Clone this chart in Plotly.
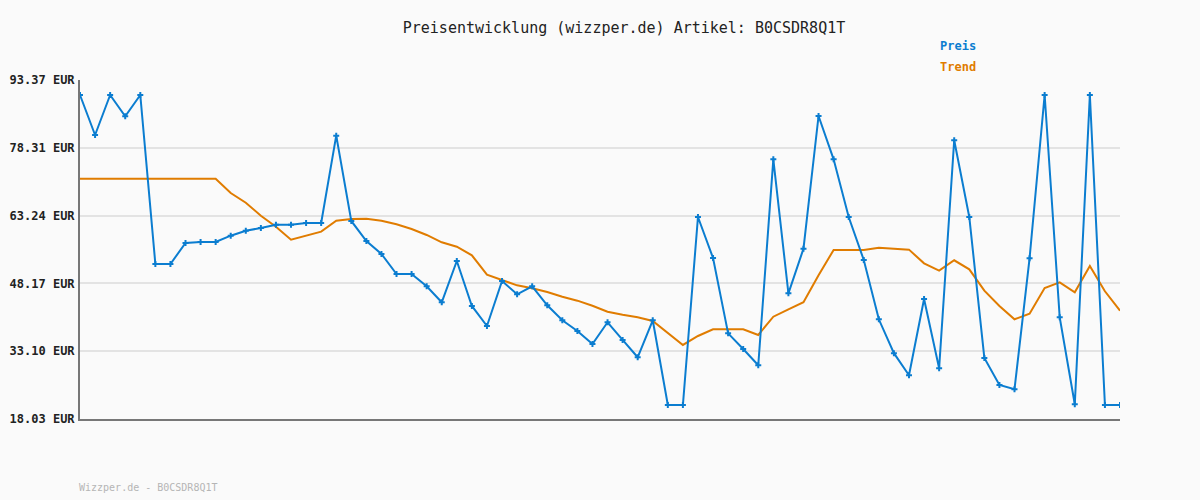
import plotly.graph_objects as go

preis = [90.04, 81.15, 90.04, 85.3, 90.04, 52.48, 52.48, 57.15, 57.37, 57.37,
         58.77, 59.88, 60.48, 61.21, 61.21, 61.59, 61.59, 81.0, 62.04, 57.59,
         54.70, 50.26, 50.26, 47.52, 43.97, 53.15, 43.15, 38.7, 48.7, 45.75,
         47.52, 43.3, 39.97, 37.59, 34.7, 39.52, 35.6, 31.75, 39.97, 21.15,
         21.15, 62.93, 53.81, 37.07, 33.59, 29.97, 75.74, 45.96, 55.88, 85.37,
         75.74, 62.93, 53.37, 40.19, 32.66, 27.75, 44.7, 29.3, 79.97, 62.93,
         31.6, 25.6, 24.63, 53.74, 90.04, 40.63, 21.3, 90.04, 21.15, 21.15]

trend = [71.44, 71.44, 71.44, 71.44, 71.44, 71.44, 71.44, 71.44, 71.44, 71.44,
         68.26, 66.1, 63.2, 60.77, 57.88, 58.77, 59.66, 62.1, 62.5, 62.55,
         62.1, 61.3, 60.26, 58.93, 57.3, 56.33, 54.4, 50.1, 48.93, 47.74,
         47.08, 46.26, 45.2, 44.33, 43.2, 41.88, 41.2, 40.63, 39.8, 37.08,
         34.48, 36.48, 37.96, 37.96, 37.96, 36.7, 40.77, 42.4, 43.97, 49.97,
         55.6, 55.6, 55.6, 56.1, 55.92, 55.67, 52.63, 51.0, 53.3, 51.3,
         46.56, 43.15, 40.19, 41.44, 47.15, 48.4, 46.2, 52.04, 46.41, 42.1]

y_ticks = [18.03, 33.10, 48.17, 63.24, 78.31, 93.37]
y_labels = [f"<b>{v:.2f} EUR</b>" for v in y_ticks]

x = list(range(len(preis)))

BLUE = "#0b7dd0"
ORANGE = "#e07c00"
MONO = "DejaVu Sans Mono, Liberation Mono, monospace"

fig = go.Figure()
fig.add_trace(go.Scatter(x=x, y=trend, mode="lines", name="Trend",
                         line=dict(color=ORANGE, width=2), hoverinfo="skip"))
fig.add_trace(go.Scatter(x=x, y=preis, mode="lines+markers", name="Preis",
                         line=dict(color=BLUE, width=2),
                         marker=dict(symbol="cross", size=5, color=BLUE)))

fig.update_layout(
    width=1200, height=500,
    paper_bgcolor="#fafafa", plot_bgcolor="#fafafa",
    margin=dict(l=80, r=80, t=80, b=81),
    showlegend=False,
    title=dict(text="Preisentwicklung (wizzper.de) Artikel: B0CSDR8Q1T",
               x=0.52, xanchor="center", y=0.944, yanchor="middle",
               font=dict(family=MONO, size=15, color="#222")),
    xaxis=dict(range=[0, len(preis) - 1], showticklabels=False, showgrid=False,
               zeroline=False, showline=True, linecolor="#777", linewidth=2,
               ticks="", automargin=False),
    yaxis=dict(range=[y_ticks[0], y_ticks[-1]], tickvals=y_ticks, ticktext=y_labels,
               showgrid=True, gridcolor="#e3e3e3", gridwidth=2, zeroline=False,
               showline=True, linecolor="#777", linewidth=2, ticks="",
               tickfont=dict(family=MONO, size=12, color="#222"),
               ticklabelstandoff=1, automargin=False),
    annotations=[
        dict(text="<b>Preis</b>", x=938, y=46, xref="paper", yref="paper",
             showarrow=False, xanchor="left", yanchor="middle",
             font=dict(family=MONO, size=12, color=BLUE)),
        dict(text="<b>Trend</b>", x=938, y=67, xref="paper", yref="paper",
             showarrow=False, xanchor="left", yanchor="middle",
             font=dict(family=MONO, size=12, color=ORANGE)),
        dict(text="Wizzper.de - B0CSDR8Q1T", x=77, y=487, xref="paper", yref="paper",
             showarrow=False, xanchor="left", yanchor="middle",
             font=dict(family=MONO, size=10, color="#b5b5b5")),
    ],
)

# convert pixel positions of annotations to paper coordinates
pw, ph = 1200 - 160, 500 - 161
for a in fig.layout.annotations:
    px, py = a.x, a.y
    a.x = (px - 80) / pw
    a.y = 1 - (py - 80) / ph

fig.write_html("out.html", config={"displayModeBar": False},
               post_script="document.body.style.margin='0';document.body.style.background='#fafafa';")
